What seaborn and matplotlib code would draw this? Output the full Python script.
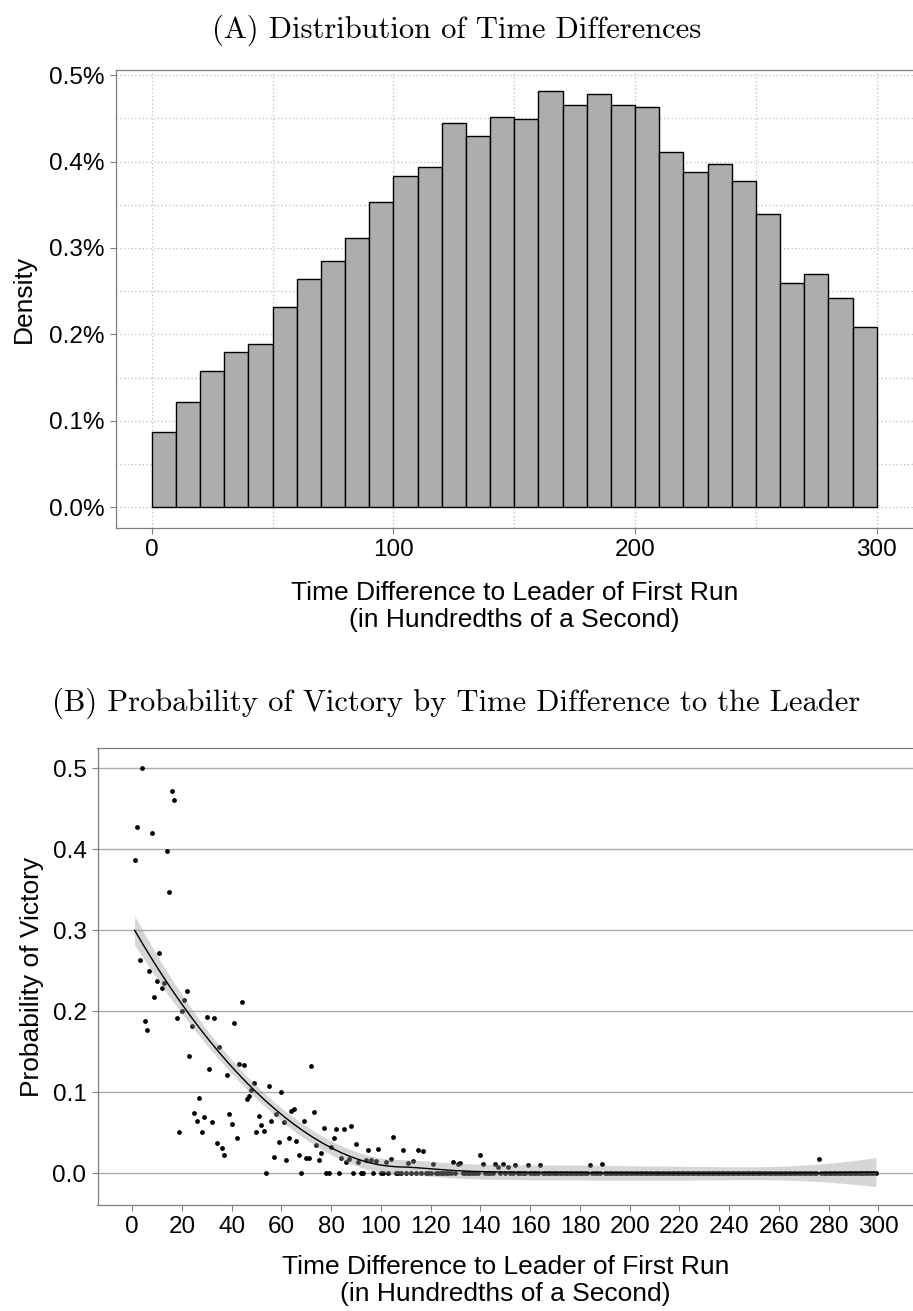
import numpy as np
import pandas as pd
import seaborn as sns
import matplotlib
matplotlib.use("Agg")
import matplotlib.pyplot as plt
from matplotlib.ticker import PercentFormatter, MultipleLocator, FixedLocator

# ---------------- data ----------------
# (A) histogram: bins of width 10 (left edges) and density per bin (fraction)
BIN_LEFT = [0, 10, 20, 30, 40, 50, 60, 70, 80, 90, 100, 110, 120, 130, 140,
            150, 160, 170, 180, 190, 200, 210, 220, 230, 240, 250, 260, 270, 280, 290]
BIN_WIDTH = 10
DENSITY = [0.000871, 0.001222, 0.001577, 0.001800, 0.001885, 0.002313, 0.002637,
           0.002849, 0.003115, 0.003535, 0.003828, 0.003940, 0.004449, 0.004295,
           0.004514, 0.004495, 0.004819, 0.004657, 0.004780, 0.004653, 0.004630,
           0.004106, 0.003874, 0.003970, 0.003770, 0.003389, 0.002590, 0.002700,
           0.002425, 0.002090]

# (B) probability of victory by time difference (non-zero observations)
WIN_X = [1, 2, 3, 4, 5, 6, 7, 8, 9, 10, 11, 12, 13, 14, 15, 16, 17, 18, 19, 20,
         21, 22, 23, 24, 25, 26, 27, 28, 29, 30, 31, 32, 33, 34, 35, 36, 37, 38, 39, 40,
         41, 42, 43, 44, 45, 46, 47, 48, 49, 50, 51, 52, 53, 55, 56, 57, 58, 59, 60,
         61, 62, 63, 64, 65, 66, 67, 69, 70, 71, 72, 73, 74, 75, 76, 77, 80,
         81, 82, 84, 85, 86, 87, 88, 90, 91, 94, 95, 96, 98, 99, 102, 104, 105,
         109, 111, 113, 115, 117, 121, 129, 131, 132, 140, 141, 146, 147, 149, 151,
         154, 159, 164, 184, 189, 276]
WIN_P = [0.387, 0.427, 0.263, 0.500, 0.188, 0.177, 0.249, 0.420, 0.217, 0.237,
         0.272, 0.229, 0.235, 0.398, 0.347, 0.471, 0.460, 0.191, 0.051, 0.200,
         0.214, 0.225, 0.145, 0.181, 0.074, 0.064, 0.093, 0.051, 0.069, 0.193,
         0.128, 0.063, 0.191, 0.037, 0.156, 0.031, 0.022, 0.121, 0.073, 0.060,
         0.185, 0.043, 0.135, 0.211, 0.133, 0.091, 0.095, 0.103, 0.111, 0.051,
         0.070, 0.059, 0.052, 0.107, 0.064, 0.020, 0.073, 0.038, 0.100,
         0.063, 0.016, 0.043, 0.076, 0.079, 0.040, 0.022, 0.064, 0.019, 0.019,
         0.132, 0.075, 0.035, 0.016, 0.025, 0.056, 0.032,
         0.043, 0.054, 0.018, 0.054, 0.013, 0.017, 0.058, 0.036, 0.014, 0.016,
         0.029, 0.016, 0.015, 0.030, 0.014, 0.017, 0.044,
         0.029, 0.012, 0.015, 0.029, 0.027, 0.011, 0.0136, 0.011, 0.012, 0.022,
         0.011, 0.011, 0.008, 0.011, 0.008,
         0.010, 0.010, 0.010, 0.010, 0.011, 0.017]
# observations with zero probability of victory
ZERO_X = [54, 68, 78, 79, 83, 89, 92, 93, 97, 100, 101, 103] + \
         [v for v in range(106, 300) if v not in set(WIN_X)]

TITLE_A = "(A) Distribution of Time Differences"
TITLE_B = "(B) Probability of Victory by Time Difference to the Leader"
XLABEL = "Time Difference to Leader of First Run\n(in Hundredths of a Second)"

# ---------------- helpers ----------------
def loess(x, y, x_eval, span=0.75):
    """Local quadratic regression with tricube weights (like R loess)."""
    n = len(x)
    q = int(np.floor(n * span))
    def weights_row(x0):
        d = np.abs(x - x0)
        h = np.sort(d)[q - 1]
        u = np.clip(d / h, 0, 1)
        w = (1 - u ** 3) ** 3
        X = np.column_stack([np.ones(n), x - x0, (x - x0) ** 2])
        XtW = X.T * w
        A = XtW @ X
        return np.linalg.solve(A, XtW)[0]
    L_eval = np.array([weights_row(x0) for x0 in x_eval])
    L_data = np.array([weights_row(x0) for x0 in x])
    resid = y - L_data @ y
    IL = np.eye(n) - L_data
    delta1 = np.trace(IL.T @ IL)
    s = np.sqrt(np.sum(resid ** 2) / delta1)
    fit = L_eval @ y
    se = s * np.sqrt(np.sum(L_eval ** 2, axis=1))
    return fit, se

# ---------------- figure ----------------
sns.set_theme(style="white")
plt.rcParams["font.family"] = ["Liberation Sans", "DejaVu Sans"]
plt.rcParams["text.color"] = "black"
plt.rcParams["axes.labelcolor"] = "black"
plt.rcParams["xtick.color"] = "black"
plt.rcParams["ytick.color"] = "black"

W, H = 913, 1311
fig = plt.figure(figsize=(W / 100, H / 100), dpi=100)

def ax_rect(l, t, r, b):
    return [l / W, 1 - b / H, (r - l) / W, (b - t) / H]

grid_col = "#BDBDBD"
spine_col = "#7F7F7F"
TICK_FS = 17.5
LABEL_FS = 19

# ---------- panel A ----------
ax1 = fig.add_axes(ax_rect(115.5, 70, 913, 528))
hist_df = pd.DataFrame({"center": np.array(BIN_LEFT) + BIN_WIDTH / 2, "dens": DENSITY})
edges = list(BIN_LEFT) + [BIN_LEFT[-1] + BIN_WIDTH]
sns.histplot(data=hist_df, x="center", weights="dens", bins=edges, stat="count",
             color="#ADADAD", edgecolor="black", linewidth=1.0, alpha=1.0, ax=ax1)
ax1.set_xlim(-15, 315)
ax1.set_ylim(-0.000241, 0.005060)
ax1.xaxis.set_major_locator(FixedLocator([0, 100, 200, 300]))
ax1.xaxis.set_minor_locator(FixedLocator([50, 150, 250]))
ax1.yaxis.set_major_locator(MultipleLocator(0.001))
ax1.yaxis.set_minor_locator(MultipleLocator(0.0005))
ax1.yaxis.set_major_formatter(PercentFormatter(xmax=1, decimals=1))
ax1.grid(which="both", linestyle=(0, (1, 2)), color=grid_col, linewidth=0.9)
ax1.set_axisbelow(True)
ax1.set_xlabel(XLABEL, fontsize=LABEL_FS, labelpad=14, linespacing=1.2)
ax1.set_ylabel("Density", fontsize=LABEL_FS, labelpad=9)
ax1.tick_params(axis="both", which="major", labelsize=TICK_FS, length=4, width=0.8,
                color=spine_col, labelcolor="black", direction="out",
                bottom=True, left=True, pad=4)
ax1.tick_params(axis="both", which="minor", length=0)
for side in ["left", "bottom", "top"]:
    ax1.spines[side].set_color(spine_col)
    ax1.spines[side].set_linewidth(0.9)
ax1.spines["right"].set_visible(False)

# ---------- panel B ----------
ax2 = fig.add_axes(ax_rect(97.5, 748, 913, 1205))
x_all = np.array(WIN_X + ZERO_X, dtype=float)
p_all = np.array(WIN_P + [0.0] * len(ZERO_X))
order = np.argsort(x_all)
x_all, p_all = x_all[order], p_all[order]
pts = pd.DataFrame({"diff": x_all, "prob": p_all})

x_grid = np.linspace(x_all.min(), x_all.max(), 80)
fit, se = loess(x_all, p_all, x_grid, span=0.75)
tcrit = 1.97

for yv in [0.0, 0.1, 0.2, 0.3, 0.4, 0.5]:
    ax2.axhline(yv, color="#ABABAB", linewidth=1.0, zorder=0)
sns.scatterplot(data=pts, x="diff", y="prob", color="black", s=12, linewidth=0,
                zorder=2, ax=ax2)
ax2.fill_between(x_grid, fit - tcrit * se, fit + tcrit * se, color="#999999",
                 alpha=0.4, linewidth=0, zorder=3)
sns.lineplot(x=x_grid, y=fit, color="black", linewidth=1.0, zorder=4, ax=ax2)

ax2.set_xlim(-13.9, 313.9)
ax2.set_ylim(-0.0395, 0.5247)
ax2.set_xticks(list(range(0, 301, 20)))
ax2.set_yticks([0.0, 0.1, 0.2, 0.3, 0.4, 0.5])
ax2.set_yticklabels(["0.0", "0.1", "0.2", "0.3", "0.4", "0.5"])
ax2.set_xlabel(XLABEL, fontsize=LABEL_FS, labelpad=12, linespacing=1.15)
ax2.set_ylabel("Probability of Victory", fontsize=LABEL_FS, labelpad=6)
ax2.tick_params(axis="both", which="major", labelsize=TICK_FS, length=4, width=0.8,
                color=spine_col, labelcolor="black", direction="out",
                bottom=True, left=True, pad=4)
for side in ["left", "bottom", "top"]:
    ax2.spines[side].set_color(spine_col)
    ax2.spines[side].set_linewidth(0.9)
ax2.spines["right"].set_visible(False)

# ---------- titles ----------
fig.text(0.5, 1 - 30 / H, TITLE_A, ha="center", va="center", fontsize=22,
         family=["cmr10", "DejaVu Serif"], color="black")
fig.text(0.5, 1 - 703 / H, TITLE_B, ha="center", va="center", fontsize=22,
         family=["cmr10", "DejaVu Serif"], color="black")

fig.savefig("out.png", dpi=100)
